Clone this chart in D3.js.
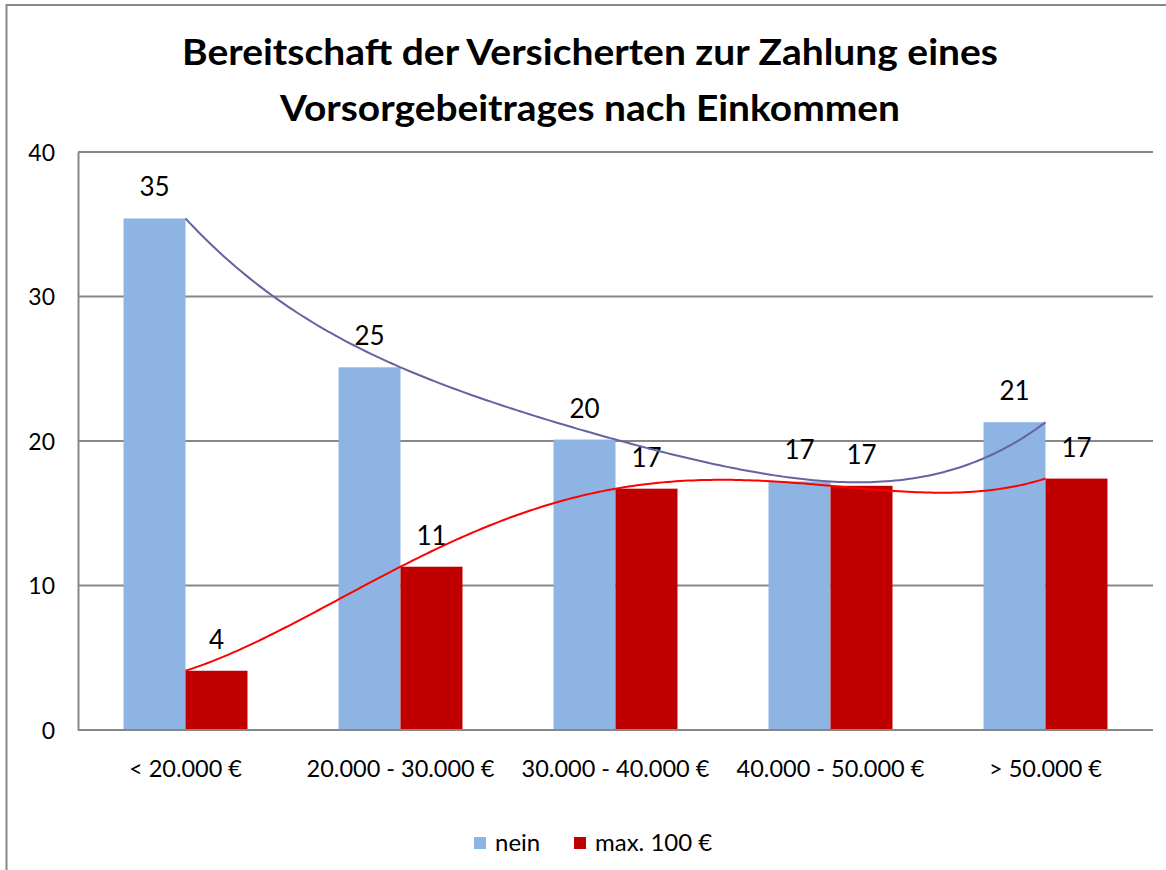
<!DOCTYPE html>
<html lang="de">
<head>
<meta charset="utf-8">
<script src="https://cdn.jsdelivr.net/npm/d3@7"></script>
<style>
  html, body { margin: 0; padding: 0; background: #fff; }
  svg { display: block; }
  text { font-family: Lato, "Open Sans", "Noto Sans", sans-serif; fill: #000; }
</style>
</head>
<body>
<svg id="chart" width="1166" height="870"></svg>
<script>
// Income bands and share of insured persons (percent) per answer
const categories = ["< 20.000 €", "20.000 - 30.000 €", "30.000 - 40.000 €", "40.000 - 50.000 €", "> 50.000 €"];
const seriesNames = ["nein", "max. 100 €"];
const neinValues = [35.4, 25.1, 20.1, 17.2, 21.3];
const max100Values = [4.1, 11.3, 16.7, 16.9, 17.4];
const yTicks = [0, 10, 20, 30, 40];
const titleLines = ["Bereitschaft der Versicherten zur Zahlung eines", "Vorsorgebeitrages nach Einkommen"];

const colors = { nein: "#8eb4e3", max: "#c00000" };
const trendColors = { nein: "#6464a0", max: "#ff0000" };
const gridColor = "#878787";

const svg = d3.select("#chart");

// Outer chart frame
svg.append("rect")
  .attr("x", 6.5).attr("y", 5).attr("width", 1200).attr("height", 900)
  .attr("fill", "none").attr("stroke", gridColor).attr("stroke-width", 2);

// Title
const titleWidths = [816, 620];
svg.append("g").selectAll("text").data(titleLines).join("text")
  .attr("x", 590)
  .attr("y", (d, i) => 65 + i * 56)
  .attr("text-anchor", "middle")
  .attr("font-size", 36)
  .attr("font-weight", 700)
  .attr("textLength", (d, i) => titleWidths[i])
  .attr("lengthAdjust", "spacingAndGlyphs")
  .text(d => d);

// Plot area
const plot = { left: 78, right: 1153, top: 152, bottom: 730 };

const x0 = d3.scaleBand()
  .domain(categories)
  .range([plot.left, plot.right])
  .paddingInner(0.4233)
  .paddingOuter(0.4233 / 2);

const x1 = d3.scaleBand()
  .domain(seriesNames)
  .range([0, x0.bandwidth()]);

const y = d3.scaleLinear().domain([0, 40]).range([plot.bottom, plot.top]);

// Horizontal gridlines
svg.append("g").selectAll("line").data(yTicks.filter(t => t > 0)).join("line")
  .attr("x1", plot.left).attr("x2", plot.right)
  .attr("y1", d => y(d)).attr("y2", d => y(d))
  .attr("stroke", gridColor).attr("stroke-width", 2);

// Y axis
const yAxis = svg.append("g")
  .attr("transform", `translate(${plot.left},0)`)
  .call(d3.axisLeft(y).tickValues(yTicks).tickSize(0).tickPadding(23));
yAxis.select(".domain").attr("stroke", gridColor).attr("stroke-width", 2);
yAxis.selectAll(".tick text")
  .attr("font-size", 23)
  .attr("font-family", "Lato, 'Open Sans', sans-serif")
  .attr("fill", "#000")
  .attr("dy", "0.36em");

// Bars
const rows = categories.map((c, i) => ({
  category: c,
  values: [
    { key: "nein", value: neinValues[i] },
    { key: "max. 100 €", value: max100Values[i] }
  ]
}));

const groups = svg.append("g").selectAll("g").data(rows).join("g")
  .attr("transform", d => `translate(${x0(d.category)},0)`);

groups.selectAll("rect").data(d => d.values).join("rect")
  .attr("x", d => x1(d.key))
  .attr("y", d => y(d.value))
  .attr("width", x1.bandwidth())
  .attr("height", d => y(0) - y(d.value))
  .attr("fill", d => d.key === "nein" ? colors.nein : colors.max);

// Data labels
groups.selectAll("text").data(d => d.values).join("text")
  .attr("x", d => x1(d.key) + x1.bandwidth() / 2)
  .attr("y", d => y(d.value) - 22)
  .attr("text-anchor", "middle")
  .attr("font-size", 26)
  .text(d => d3.format(".0f")(d.value));

// X axis
const xAxis = svg.append("g")
  .attr("transform", `translate(0,${plot.bottom})`)
  .call(d3.axisBottom(x0).tickSize(0).tickPadding(0));
xAxis.select(".domain").attr("d", `M${plot.left},0H${plot.right}`)
  .attr("stroke", gridColor).attr("stroke-width", 2);
xAxis.selectAll(".tick text")
  .attr("font-size", 23.5)
  .attr("font-family", "Lato, 'Open Sans', sans-serif")
  .attr("fill", "#000")
  .attr("y", 47)
  .attr("dy", 0);

// Polynomial trendline (order 4, least squares over category index 1..n)
function polyfit(xs, ys, order) {
  const n = order + 1;
  const A = Array.from({ length: n }, () => new Array(n + 1).fill(0));
  for (let r = 0; r < n; r++) {
    for (let c = 0; c < n; c++) {
      A[r][c] = d3.sum(xs, xv => Math.pow(xv, r + c));
    }
    A[r][n] = d3.sum(xs.map((xv, k) => ys[k] * Math.pow(xv, r)));
  }
  for (let p = 0; p < n; p++) {
    let best = p;
    for (let r = p + 1; r < n; r++) if (Math.abs(A[r][p]) > Math.abs(A[best][p])) best = r;
    [A[p], A[best]] = [A[best], A[p]];
    for (let r = 0; r < n; r++) {
      if (r === p) continue;
      const f = A[r][p] / A[p][p];
      for (let c = p; c <= n; c++) A[r][c] -= f * A[p][c];
    }
  }
  return A.map((row, i) => row[n] / row[i]);
}

const idx = categories.map((c, i) => i + 1);
const xTrend = d3.scaleLinear()
  .domain([1, categories.length])
  .range([x0(categories[0]) + x0.bandwidth() / 2, x0(categories[categories.length - 1]) + x0.bandwidth() / 2]);

const trendLine = d3.line()
  .x(d => xTrend(d.t))
  .y(d => y(d.v));

function drawTrend(values, color) {
  const coef = polyfit(idx, values, 4);
  const pts = d3.range(1, categories.length + 0.0001, 0.02).map(t => ({
    t, v: coef.reduce((s, a, k) => s + a * Math.pow(t, k), 0)
  }));
  svg.append("path")
    .datum(pts)
    .attr("d", trendLine)
    .attr("fill", "none")
    .attr("stroke", color)
    .attr("stroke-width", 2);
}
drawTrend(neinValues, trendColors.nein);
drawTrend(max100Values, trendColors.max);

// Legend
const legendItems = [
  { name: seriesNames[0], color: colors.nein, x: 474 },
  { name: seriesNames[1], color: colors.max, x: 574 }
];
const legend = svg.append("g").selectAll("g").data(legendItems).join("g")
  .attr("transform", d => `translate(${d.x},0)`);
legend.append("rect")
  .attr("x", 0).attr("y", 837).attr("width", 12).attr("height", 12)
  .attr("fill", d => d.color);
legend.append("text")
  .attr("x", 21).attr("y", 851)
  .attr("font-size", 24)
  .text(d => d.name);
</script>
</body>
</html>
